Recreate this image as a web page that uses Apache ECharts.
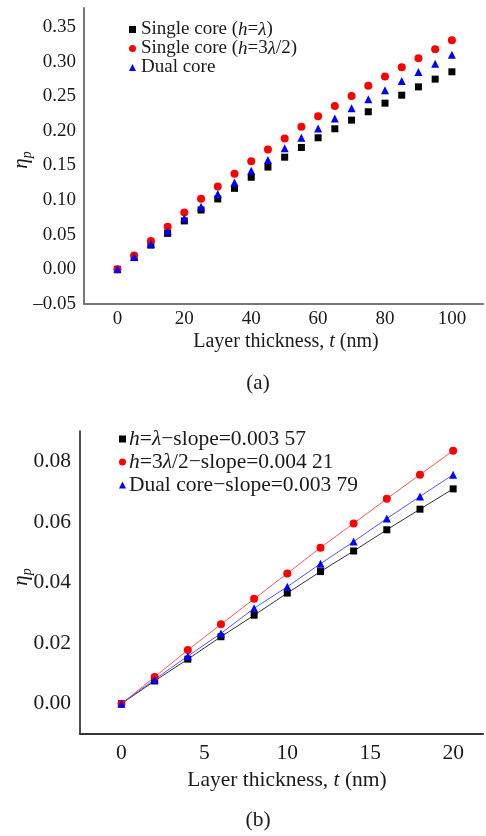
<!DOCTYPE html>
<html>
<head>
<meta charset="utf-8">
<script src="https://cdn.jsdelivr.net/npm/echarts@6/dist/echarts.min.js"></script>
<style>
html,body{margin:0;padding:0;background:#fff;}
#chart{width:486px;height:836px;}
</style>
</head>
<body>
<div id="chart"></div>
<script>
// ---- Data (a) ----
const topX = [0,5,10,15,20,25,30,35,40,45,50,55,60,65,70,75,80,85,90,95,100];
const topSingle = [0,0.017,0.035,0.052,0.070,0.0857,0.1017,0.117,0.133,0.1477,0.162,0.176,0.190,0.203,0.2155,0.2276,0.240,0.2515,0.2635,0.2747,0.2853];
const topSingle32 = [0,0.020,0.041,0.0615,0.082,0.102,0.1196,0.138,0.156,0.173,0.189,0.206,0.221,0.236,0.2504,0.265,0.2785,0.292,0.305,0.318,0.331];
const topDual = [0,0.018,0.037,0.055,0.0736,0.0905,0.109,0.1254,0.1424,0.158,0.175,0.190,0.2035,0.218,0.2326,0.2456,0.2587,0.272,0.285,0.297,0.310];
const topNames = ['Single core (h=λ)','Single core (h=3λ/2)','Dual core'];

// ---- Data (b) ----
const botX = [0,2,4,6,8,10,12,14,16,18,20];
const botSingle = [0,0.0075,0.0147,0.0221,0.0292,0.0365,0.0436,0.0504,0.0574,0.0642,0.0709];
const botSingle32 = [0,0.0088,0.0177,0.0262,0.0346,0.0430,0.0515,0.0595,0.0676,0.0756,0.0835];
const botDual = [0,0.0080,0.0157,0.0232,0.0315,0.0386,0.0462,0.0535,0.0611,0.0684,0.0756];
const botNames = ['h=λ−slope=0.003 57','h=3λ/2−slope=0.004 21','Dual core−slope=0.003 79'];

const symbols = ['rect','circle','triangle'];

const richNames = {
  'Single core (h=λ)': 'Single core ({i|h}={i|λ})',
  'Single core (h=3λ/2)': 'Single core ({i|h}=3{i|λ}/2)',
  'Dual core': 'Dual core',
  'h=λ−slope=0.003 57': '{i|h}={i|λ}−slope=0.003 57',
  'h=3λ/2−slope=0.004 21': '{i|h}=3{i|λ}/2−slope=0.004 21',
  'Dual core−slope=0.003 79': 'Dual core−slope=0.003 79'
};

const FONT = "'Liberation Serif','DejaVu Serif',serif";
const TXT = '#1a1a1a';
const BLACK = '#000000', RED = '#ff0000', BLUE = '#0000ff';

function isMult(v, step){ const r = v/step; return Math.abs(r - Math.round(r)) < 1e-6; }
function pairs(xs, ys){ return xs.map((x,i)=>[x, ys[i]]); }

const chart = echarts.init(document.getElementById('chart'), null, {renderer:'canvas'});

const option = {
  animation: false,
  backgroundColor: '#ffffff',
  grid: [
    {left: 84, right: 0, top: 8, height: 296},
    {left: 80, right: 0, top: 431, height: 303}
  ],
  xAxis: [
    {
      gridIndex: 0, type: 'value', min: -10, max: 109.3, interval: 10,
      axisLine: {onZero: false, lineStyle: {color: '#777', width: 2}},
      axisTick: {show: false}, splitLine: {show: false},
      axisLabel: {
        margin: 6, color: TXT, fontFamily: FONT, fontSize: 19,
        formatter: v => (v >= 0 && isMult(v, 20) && v <= 100) ? String(Math.round(v)) : ''
      }
    },
    {
      gridIndex: 1, type: 'value', min: -2.5, max: 21.8, interval: 2.5,
      axisLine: {onZero: false, lineStyle: {color: '#333', width: 2}},
      axisTick: {show: false}, splitLine: {show: false},
      axisLabel: {
        margin: 8, color: TXT, fontFamily: FONT, fontSize: 21.5,
        formatter: v => (v >= 0 && isMult(v, 5) && v <= 20) ? String(Math.round(v)) : ''
      }
    }
  ],
  yAxis: [
    {
      gridIndex: 0, type: 'value', min: -0.05, max: 0.3774, interval: 0.05,
      axisLine: {show: true, onZero: false, lineStyle: {color: '#777', width: 2}},
      axisTick: {show: false}, splitLine: {show: false},
      axisLabel: {
        margin: 8, color: TXT, fontFamily: FONT, fontSize: 19,
        formatter: v => {
          if (!isMult(v, 0.05) || v > 0.36) return '';
          return v < -1e-9 ? '–' + Math.abs(v).toFixed(2) : Math.abs(v).toFixed(2);
        }
      }
    },
    {
      gridIndex: 1, type: 'value', min: -0.01, max: 0.09, interval: 0.01,
      axisLine: {show: true, onZero: false, lineStyle: {color: '#111', width: 1.5}},
      axisTick: {show: false}, splitLine: {show: false},
      axisLabel: {
        margin: 9, color: TXT, fontFamily: FONT, fontSize: 21.5,
        formatter: v => (v > -1e-9 && isMult(v, 0.02) && v < 0.085) ? Math.abs(v).toFixed(2) : ''
      }
    }
  ],
  legend: [
    {
      data: topNames.map((n,i)=>({name: n, icon: symbols[i]})),
      orient: 'vertical', left: 124, top: 15, itemGap: 0,
      itemWidth: 7, itemHeight: 7, align: 'left',
      formatter: n => richNames[n],
      textStyle: {fontFamily: FONT, fontSize: 19, color: TXT,
        rich: {i: {fontStyle: 'italic', fontFamily: FONT, fontSize: 19, color: TXT}}}
    },
    {
      data: botNames.map((n,i)=>({name: n, icon: symbols[i]})),
      orient: 'vertical', left: 114, top: 423, itemGap: 1,
      itemWidth: 7, itemHeight: 7, align: 'left',
      formatter: n => richNames[n],
      textStyle: {fontFamily: FONT, fontSize: 21.5, color: TXT, padding: [0,0,0,-2],
        rich: {i: {fontStyle: 'italic', fontFamily: FONT, fontSize: 21.5, color: TXT}}}
    }
  ],
  series: [
    {name: topNames[0], type: 'scatter', xAxisIndex: 0, yAxisIndex: 0, symbol: symbols[0], symbolSize: 7,
     itemStyle: {color: BLACK, opacity: 1}, data: pairs(topX, topSingle)},
    {name: topNames[1], type: 'scatter', xAxisIndex: 0, yAxisIndex: 0, symbol: symbols[1], symbolSize: 8,
     itemStyle: {color: RED, opacity: 1}, data: pairs(topX, topSingle32)},
    {name: topNames[2], type: 'scatter', xAxisIndex: 0, yAxisIndex: 0, symbol: symbols[2], symbolSize: 8,
     itemStyle: {color: BLUE, opacity: 1}, data: pairs(topX, topDual)},
    {name: botNames[0], type: 'line', xAxisIndex: 1, yAxisIndex: 1, symbol: symbols[0], symbolSize: 7,
     itemStyle: {color: BLACK, opacity: 1}, lineStyle: {color: '#333', width: 1}, data: pairs(botX, botSingle)},
    {name: botNames[1], type: 'line', xAxisIndex: 1, yAxisIndex: 1, symbol: symbols[1], symbolSize: 8,
     itemStyle: {color: RED, opacity: 1}, lineStyle: {color: '#ff5555', width: 1}, data: pairs(botX, botSingle32)},
    {name: botNames[2], type: 'line', xAxisIndex: 1, yAxisIndex: 1, symbol: symbols[2], symbolSize: 8,
     itemStyle: {color: BLUE, opacity: 1}, lineStyle: {color: '#5555ff', width: 1}, data: pairs(botX, botDual)}
  ],
  graphic: [
    {type: 'text', x: 21, y: 160, rotation: Math.PI/2, z: 10,
     style: {text: '{e|η}{s|p}', align: 'center', verticalAlign: 'middle', fill: TXT,
       rich: {e: {fontFamily: FONT, fontStyle: 'italic', fontSize: 21, fill: TXT, lineHeight: 22},
              s: {fontFamily: FONT, fontStyle: 'italic', fontSize: 14, fill: TXT, verticalAlign: 'bottom', lineHeight: 26}}}},
    {type: 'text', x: 21, y: 577, rotation: Math.PI/2, z: 10,
     style: {text: '{e|η}{s|p}', align: 'center', verticalAlign: 'middle', fill: TXT,
       rich: {e: {fontFamily: FONT, fontStyle: 'italic', fontSize: 21, fill: TXT, lineHeight: 22},
              s: {fontFamily: FONT, fontStyle: 'italic', fontSize: 14, fill: TXT, verticalAlign: 'bottom', lineHeight: 26}}}},
    {type: 'text', x: 286, y: 342, z: 10,
     style: {text: 'Layer thickness, {i|t} (nm)', align: 'center', verticalAlign: 'middle', fill: TXT,
       fontFamily: FONT, fontSize: 20,
       rich: {i: {fontFamily: FONT, fontStyle: 'italic', fontSize: 20, fill: TXT}}}},
    {type: 'text', x: 258, y: 383, z: 10,
     style: {text: '(a)', align: 'center', verticalAlign: 'middle', fill: TXT, fontFamily: FONT, fontSize: 21}},
    {type: 'text', x: 287, y: 780, z: 10,
     style: {text: 'Layer thickness, {i|t} (nm)', align: 'center', verticalAlign: 'middle', fill: TXT,
       fontFamily: FONT, fontSize: 21.5,
       rich: {i: {fontFamily: FONT, fontStyle: 'italic', fontSize: 21.5, fill: TXT}}}},
    {type: 'text', x: 258, y: 820, z: 10,
     style: {text: '(b)', align: 'center', verticalAlign: 'middle', fill: TXT, fontFamily: FONT, fontSize: 21.5}}
  ]
};
chart.setOption(option);
</script>
</body>
</html>
